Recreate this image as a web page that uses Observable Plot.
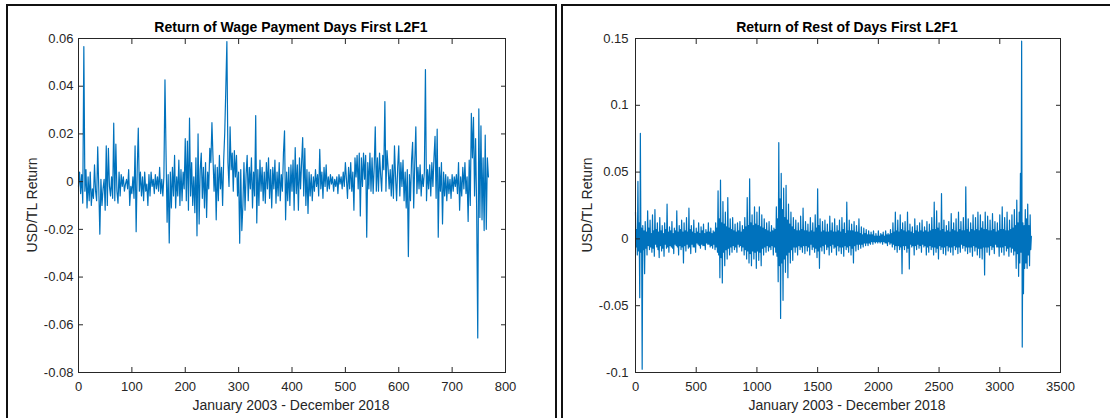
<!DOCTYPE html>
<html>
<head>
<meta charset="utf-8">
<script src="https://cdn.jsdelivr.net/npm/d3@7"></script>
<script src="https://cdn.jsdelivr.net/npm/@observablehq/plot@0.6"></script>
<style>
  html, body { margin: 0; padding: 0; background: #fff; }
  #wrap { position: relative; width: 1110px; height: 418px; overflow: hidden; font-family: "Liberation Sans", Arial, Helvetica, sans-serif; }
  .panel { position: absolute; top: 4px; height: 440px; border: 2px solid #111; box-sizing: border-box; }
  .chart { position: absolute; top: 0; }
  .chart svg text { font-size: 13px !important; font-family: "Liberation Sans", Arial, Helvetica, sans-serif !important; }
  .txt { position: absolute; white-space: nowrap; transform: translate(-50%, -50%); line-height: 1; }
  .title { font-weight: bold; font-size: 14px; color: #000; }
  .xlab { font-size: 14px; color: #262626; }
  .ylab { font-size: 14px; color: #262626; transform: translate(-50%, -50%) rotate(-90deg); }
</style>
</head>
<body>
<div id="wrap">
  <div class="panel" style="left:6px;width:551px;"></div>
  <div class="panel" style="left:561px;width:560px;"></div>
  <div id="left" class="chart" style="left:0px;"></div>
  <div id="right" class="chart" style="left:556px;"></div>
  <div class="txt title" style="left:291px;top:27px;">Return of Wage Payment Days First L2F1</div>
  <div class="txt title" style="left:847px;top:27px;">Return of Rest of Days First L2F1</div>
  <div class="txt xlab" style="left:291px;top:405px;">January 2003 - December 2018</div>
  <div class="txt xlab" style="left:847px;top:405px;">January 2003 - December 2018</div>
  <div class="txt ylab" style="left:32px;top:205px;">USD/TL Return</div>
  <div class="txt ylab" style="left:587px;top:205px;">USD/TL Return</div>
</div>
<script>
// ---- Data ----
// Left: return series on wage payment days, one value every leftStep observations
const leftStep = 2;
const leftValues = [
  -.002,.004,-.005,.003,-.009,.0566,-.004,.005,-.011,.002,-.008,.004,-.010,-.003,-.007,.007,-.004,-.008,.0146,-.003,-.022,.001,-.010,-.003,.001,
  -.012,.015,-.010,.014,-.002,-.006,.002,-.007,.0245,-.008,.0157,-.004,-.009,.004,-.006,.003,-.002,.002,-.004,-.001,.001,-.003,.005,-.010,-.002,
  -.005,.002,-.007,.015,-.021,.005,.0224,-.004,.004,-.006,.002,-.008,.004,-.004,-.001,-.010,.003,-.006,.004,-.002,.001,-.005,.003,-.003,.002,
  -.004,.006,-.005,.001,-.006,.002,.0427,.012,-.017,.003,-.0257,.004,-.011,.006,-.006,.011,-.011,.002,-.006,.009,-.010,.005,-.008,.004,-.003,
  .018,-.008,.017,-.012,.0266,-.006,.008,-.010,.002,-.013,.010,-.0227,.020,-.0177,.005,.012,-.007,.006,-.011,.008,-.015,.004,-.003,.014,.008,
  .0247,.010,-.004,.007,-.016,.006,-.008,.011,-.003,.006,-.010,.009,.0206,.039,.0587,.008,-.002,.023,.005,.012,-.004,.013,.002,.011,-.006,
  .004,-.0258,.005,-.0205,-.010,.008,-.012,.003,.011,-.008,.006,-.003,.010,-.011,.004,-.006,.0277,-.0173,.005,-.010,.009,-.004,.006,-.008,.004,
  -.009,.008,-.003,.010,-.007,.005,-.011,.006,-.003,.009,-.009,.004,-.006,.008,-.008,.003,-.004,.012,.0213,-.016,.004,-.008,.006,-.010,.007,
  -.004,.009,-.012,.0143,-.005,.007,-.012,.010,-.003,.008,.0185,-.006,.014,-.010,.005,-.0133,.004,-.006,.003,-.008,.002,-.004,.005,-.002,.003,
  -.006,.0135,-.003,.004,-.007,.006,-.002,.007,-.004,.002,-.003,.003,-.001,.002,-.004,.001,-.002,.002,-.005,.003,-.001,.002,-.003,.004,-.002,
  .008,.001,-.007,.006,-.003,.008,-.004,.004,-.012,.010,.002,.011,-.003,.012,-.0144,.010,-.002,.012,.001,.011,-.0233,.008,-.003,.012,-.004,
  .010,-.005,.006,.023,-.004,.010,-.004,.012,.003,-.004,.011,.005,.0336,-.004,.013,.006,-.003,.005,-.006,.007,-.007,.015,.002,-.008,.006,
  .015,-.006,.008,-.002,.009,-.008,.004,-.011,.005,-.0314,.003,-.008,.009,.0165,-.011,.008,.023,-.005,.006,-.003,.007,-.006,.003,-.002,.004,
  .047,-.008,.005,-.003,.007,-.006,.008,-.002,.010,.019,-.007,.022,-.0233,.006,-.004,.008,-.0177,.004,-.006,.003,-.008,.002,-.005,.001,-.007,
  .003,-.004,.002,-.002,.003,-.005,.008,-.012,.002,-.006,.006,-.003,.008,-.005,.002,-.0167,.009,-.010,.0286,.010,.027,-.006,.018,-.012,-.0655,
  .0305,-.015,.0234,-.016,.010,-.0205,.0195,-.020,.010,.002
];
const leftXTicks = [0, 100, 200, 300, 400, 500, 600, 700, 800];
const leftYTicks = [-0.08, -0.06, -0.04, -0.02, 0, 0.02, 0.04, 0.06];

// Right: return series on the rest of days, one value every rightStep observations
const rightStep = 5;
const rightValues = [
  .020,-.006,.007,-.012,.043,-.009,.012,-.044,.079,-.010,.008,-.0975,.010,-.008,.006,-.026,.013,-.007,.005,-.012,.021,-.005,.008,-.008,.014,-.006,.004,-.010,.018,-.007,.006,-.013,.022,-.004,.007,-.006,.012,-.008,.005,-.014,
  .016,-.005,.006,-.009,.010,-.007,.004,-.013,.012,-.004,.007,-.007,.026,-.006,.005,-.010,.009,-.005,.006,-.006,.013,-.007,.004,-.011,.008,-.004,.006,-.005,.021,-.006,.005,-.012,.010,-.005,.007,-.008,.014,-.006,.005,-.018,
  .012,-.005,.006,-.009,.016,-.004,.005,-.007,.023,-.006,.007,-.011,.010,-.004,.005,-.006,.014,-.006,.004,-.010,.008,-.003,.005,-.004,.012,-.005,.004,-.007,.009,-.004,.006,-.005,.011,-.005,.004,-.008,.007,-.003,.005,-.004,
  .012,-.004,.005,-.006,.008,-.005,.004,-.007,.006,-.004,.005,-.008,.012,-.006,.008,-.010,.036,-.012,.015,-.029,.044,-.014,.012,-.033,.028,-.010,.011,-.020,.020,-.008,.009,-.015,.031,-.007,.008,-.012,.015,-.006,.007,-.010,
  .016,-.005,.006,-.008,.011,-.006,.005,-.010,.012,-.004,.006,-.006,.013,-.005,.005,-.009,.010,-.006,.007,-.012,.016,-.008,.009,-.015,.031,-.009,.010,-.018,.045,-.011,.012,-.020,.018,-.009,.010,-.015,.024,-.010,.011,-.022,
  .020,-.009,.010,-.016,.024,-.010,.009,-.020,.018,-.007,.008,-.012,.015,-.006,.007,-.010,.012,-.005,.006,-.009,.013,-.006,.005,-.008,.010,-.005,.006,-.012,.008,-.006,.007,-.010,.024,-.013,.015,-.032,.072,-.020,.030,-.0595,
  .049,-.018,.022,-.046,.038,-.015,.016,-.025,.040,-.012,.014,-.029,.026,-.010,.011,-.018,.020,-.008,.009,-.016,.016,-.006,.007,-.010,.014,-.006,.006,-.012,.012,-.005,.006,-.008,.017,-.006,.007,-.010,.023,-.005,.006,-.011,
  .013,-.005,.006,-.009,.011,-.006,.005,-.012,.016,-.004,.006,-.008,.012,-.006,.005,-.010,.018,-.007,.008,-.014,.0375,-.009,.010,-.022,.015,-.006,.005,-.009,.013,-.005,.006,-.011,.014,-.004,.005,-.008,.011,-.006,.005,-.012,
  .017,-.005,.006,-.010,.012,-.004,.005,-.007,.015,-.006,.005,-.012,.010,-.005,.006,-.009,.014,-.006,.005,-.011,.016,-.006,.007,-.013,.012,-.005,.004,-.008,.0275,-.006,.006,-.010,.014,-.005,.006,-.012,.011,-.007,.006,-.018,
  .013,-.005,.005,-.009,.010,-.004,.005,-.008,.015,-.004,.004,-.007,.009,-.004,.003,-.006,.008,-.003,.004,-.005,.007,-.003,.003,-.005,.006,-.003,.003,-.004,.005,-.002,.003,-.004,.006,-.002,.002,-.003,.004,-.002,.002,-.003,
  .006,-.002,.002,-.003,.004,-.002,.003,-.004,.005,-.002,.002,-.003,.006,-.003,.003,-.005,.004,-.002,.003,-.004,.007,-.003,.004,-.006,.012,-.004,.005,-.008,.020,-.005,.006,-.010,.014,-.005,.005,-.008,.018,-.006,.007,-.026,
  .012,-.005,.006,-.008,.013,-.005,.005,-.010,.020,-.007,.006,-.0225,.011,-.004,.005,-.006,.009,-.005,.004,-.012,.015,-.005,.006,-.008,.010,-.004,.005,-.007,.012,-.005,.006,-.010,.014,-.004,.005,-.006,.009,-.005,.006,-.012,
  .013,-.006,.005,-.010,.011,-.005,.006,-.008,.016,-.006,.007,-.012,.0275,-.006,.007,-.010,.021,-.007,.008,-.015,.012,-.005,.006,-.008,.034,-.006,.007,-.011,.014,-.006,.005,-.012,.010,-.005,.006,-.009,.013,-.006,.005,-.010,
  .019,-.006,.007,-.012,.012,-.005,.006,-.008,.015,-.006,.005,-.011,.020,-.006,.007,-.010,.013,-.004,.006,-.007,.016,-.005,.006,-.009,.039,-.006,.007,-.011,.015,-.006,.005,-.010,.012,-.006,.007,-.013,.018,-.005,.006,-.009,
  .016,-.006,.007,-.012,.020,-.007,.006,-.014,.018,-.007,.008,-.015,.013,-.006,.007,-.027,.020,-.006,.007,-.010,.017,-.006,.006,-.012,.014,-.005,.006,-.008,.019,-.006,.007,-.011,.013,-.004,.005,-.006,.012,-.006,.006,-.013,
  .018,-.006,.007,-.010,.024,-.006,.007,-.012,.016,-.005,.006,-.009,.020,-.007,.006,-.013,.014,-.006,.007,-.010,.018,-.007,.008,-.012,.022,-.009,.010,-.022,.029,-.011,.012,-.028,.020,-.018,.049,-.010,.148,-.081,.012,-.041,
  .010,-.022,.022,-.018,.015,-.022,.026,-.012,.010,-.020,.018,-.008,.002
];
const rightXTicks = [0, 500, 1000, 1500, 2000, 2500, 3000, 3500];
const rightYTicks = [-0.1, -0.05, 0, 0.05, 0.1, 0.15];

// ---- Drawing ----
const lineColor = "#0072BD";
const axisColor = "#262626";
const fmt = d => (d === 0 ? "0" : String(d));
const blank = () => "";
const FONT = '"Liberation Sans", Arial, Helvetica, sans-serif';

function panel(values, step, xDomain, yDomain, xTicks, yTicks, width, marginLeft, marginRight, yPad, lineWidth) {
  const data = values.map((y, i) => ({x: i * step, y}));
  return Plot.plot({
    width, height: 418,
    marginLeft, marginRight, marginTop: 38, marginBottom: 46,
    style: {fontFamily: FONT, fontSize: "13px", color: axisColor, background: "transparent", overflow: "visible"},
    x: {domain: xDomain},
    y: {domain: yDomain},
    marks: [
      Plot.line(data, {x: "x", y: "y", stroke: lineColor, strokeWidth: lineWidth}),
      Plot.frame({stroke: axisColor, strokeWidth: 1}),
      Plot.axisX(xTicks, {anchor: "bottom", tickSize: -5, tickPadding: 14, label: null, tickFormat: fmt, stroke: axisColor, fill: axisColor}),
      Plot.axisX(xTicks, {anchor: "top", tickSize: -5, label: null, tickFormat: blank, stroke: axisColor}),
      Plot.axisY(yTicks, {anchor: "left", tickSize: -5, tickPadding: yPad, label: null, tickFormat: fmt, stroke: axisColor, fill: axisColor}),
      Plot.axisY(yTicks, {anchor: "right", tickSize: -5, label: null, tickFormat: blank, stroke: axisColor})
    ]
  });
}

document.getElementById("left").append(
  panel(leftValues, leftStep, [0, 800], [-0.08, 0.06], leftXTicks, leftYTicks, 556, 78, 51, 10, 1.2)
);
document.getElementById("right").append(
  panel(rightValues, rightStep, [0, 3500], [-0.1, 0.15], rightXTicks, rightYTicks, 554, 79, 50, 12, 1.2)
);
</script>
</body>
</html>
